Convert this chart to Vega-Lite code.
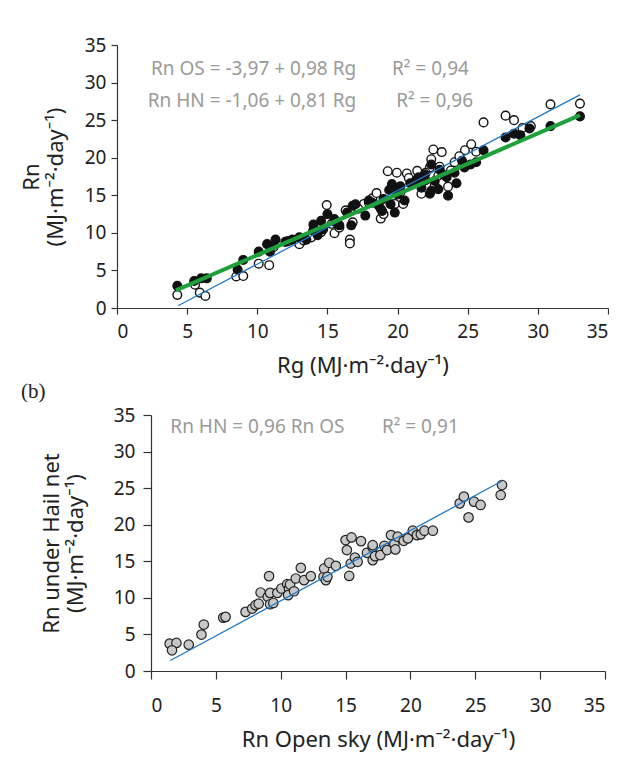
{
  "$schema": "https://vega.github.io/schema/vega-lite/v6.json",
  "background": "white",
  "padding": {"left": 20, "top": 36, "right": 0, "bottom": 5},
  "spacing": 5,
  "config": {
    "font": "Noto Sans",
    "view": {"stroke": null},
    "axis": {
      "grid": false,
      "domainColor": "#333333",
      "tickColor": "#333333",
      "labelColor": "#222222",
      "titleColor": "#222222",
      "labelFontSize": 19,
      "titleFontSize": 22,
      "titleFontWeight": "normal",
      "tickSize": 6,
      "domainWidth": 1.2,
      "tickWidth": 1.2,
      "titleLineHeight": 24
    }
  },
  "datasets": {
    "top_pts": [
      {"series": "OS", "x": 4.3, "y": 1.75},
      {"series": "OS", "x": 5.56, "y": 3.1},
      {"series": "OS", "x": 5.9, "y": 2.05},
      {"series": "OS", "x": 6.3, "y": 1.6},
      {"series": "OS", "x": 8.5, "y": 4.2},
      {"series": "OS", "x": 9.0, "y": 4.25},
      {"series": "OS", "x": 10.1, "y": 5.9},
      {"series": "OS", "x": 10.85, "y": 5.7},
      {"series": "OS", "x": 11.15, "y": 8.1},
      {"series": "OS", "x": 13.0, "y": 8.5},
      {"series": "OS", "x": 13.85, "y": 9.4},
      {"series": "OS", "x": 14.0, "y": 10.3},
      {"series": "OS", "x": 14.55, "y": 10.1},
      {"series": "OS", "x": 14.95, "y": 13.7},
      {"series": "OS", "x": 15.5, "y": 9.95},
      {"series": "OS", "x": 15.85, "y": 10.7},
      {"series": "OS", "x": 16.6, "y": 9.1},
      {"series": "OS", "x": 16.6, "y": 8.6},
      {"series": "OS", "x": 16.8, "y": 11.4},
      {"series": "OS", "x": 16.3, "y": 13.0},
      {"series": "OS", "x": 17.6, "y": 13.85},
      {"series": "OS", "x": 17.95, "y": 14.05},
      {"series": "OS", "x": 18.8, "y": 11.9},
      {"series": "OS", "x": 19.0, "y": 12.5},
      {"series": "OS", "x": 19.3, "y": 18.2},
      {"series": "OS", "x": 19.6, "y": 14.3},
      {"series": "OS", "x": 19.8, "y": 16.0},
      {"series": "OS", "x": 19.8, "y": 13.85},
      {"series": "OS", "x": 19.95, "y": 18.0},
      {"series": "OS", "x": 20.66, "y": 17.9},
      {"series": "OS", "x": 20.4, "y": 13.85},
      {"series": "OS", "x": 21.4, "y": 18.25},
      {"series": "OS", "x": 21.7, "y": 15.2},
      {"series": "OS", "x": 22.4, "y": 19.8},
      {"series": "OS", "x": 22.55, "y": 21.1},
      {"series": "OS", "x": 23.15, "y": 20.75},
      {"series": "OS", "x": 22.3, "y": 18.7},
      {"series": "OS", "x": 22.65, "y": 16.3},
      {"series": "OS", "x": 23.6, "y": 16.15},
      {"series": "OS", "x": 24.06, "y": 19.4},
      {"series": "OS", "x": 24.8, "y": 21.0},
      {"series": "OS", "x": 25.25, "y": 21.8},
      {"series": "OS", "x": 21.8, "y": 17.0},
      {"series": "OS", "x": 26.13, "y": 24.7},
      {"series": "OS", "x": 27.7, "y": 25.6},
      {"series": "OS", "x": 28.3, "y": 25.0},
      {"series": "OS", "x": 28.9, "y": 23.96},
      {"series": "OS", "x": 29.5, "y": 24.2},
      {"series": "OS", "x": 30.9, "y": 27.1},
      {"series": "OS", "x": 33.0, "y": 27.2},
      {"series": "OS", "x": 12.2, "y": 8.9},
      {"series": "OS", "x": 13.3, "y": 9.0},
      {"series": "OS", "x": 17.2, "y": 13.2},
      {"series": "OS", "x": 18.2, "y": 14.6},
      {"series": "OS", "x": 20.2, "y": 15.4},
      {"series": "OS", "x": 21.0, "y": 16.6},
      {"series": "OS", "x": 22.0, "y": 18.0},
      {"series": "OS", "x": 23.0, "y": 18.8},
      {"series": "OS", "x": 23.8, "y": 18.3},
      {"series": "OS", "x": 24.4, "y": 20.2},
      {"series": "OS", "x": 25.6, "y": 20.8},
      {"series": "OS", "x": 18.5, "y": 15.3},
      {"series": "OS", "x": 15.3, "y": 11.2},
      {"series": "OS", "x": 20.8, "y": 17.3},
      {"series": "OS", "x": 22.9, "y": 17.6},
      {"series": "HN", "x": 4.3, "y": 2.95},
      {"series": "HN", "x": 5.5, "y": 3.6},
      {"series": "HN", "x": 6.0, "y": 3.95},
      {"series": "HN", "x": 6.4, "y": 3.95},
      {"series": "HN", "x": 8.6, "y": 5.1},
      {"series": "HN", "x": 9.0, "y": 6.4},
      {"series": "HN", "x": 10.1, "y": 7.5},
      {"series": "HN", "x": 10.7, "y": 8.5},
      {"series": "HN", "x": 10.9, "y": 7.5},
      {"series": "HN", "x": 11.3, "y": 9.1},
      {"series": "HN", "x": 11.0, "y": 8.2},
      {"series": "HN", "x": 12.0, "y": 8.8},
      {"series": "HN", "x": 12.5, "y": 9.1},
      {"series": "HN", "x": 13.0, "y": 9.4},
      {"series": "HN", "x": 13.5, "y": 9.1},
      {"series": "HN", "x": 14.0, "y": 10.3},
      {"series": "HN", "x": 14.3, "y": 9.7},
      {"series": "HN", "x": 14.0, "y": 11.1},
      {"series": "HN", "x": 14.55, "y": 11.6},
      {"series": "HN", "x": 15.0, "y": 12.5},
      {"series": "HN", "x": 14.7, "y": 10.5},
      {"series": "HN", "x": 15.6, "y": 11.4},
      {"series": "HN", "x": 15.85, "y": 11.0},
      {"series": "HN", "x": 15.5, "y": 11.85},
      {"series": "HN", "x": 16.7, "y": 11.0},
      {"series": "HN", "x": 16.4, "y": 12.7},
      {"series": "HN", "x": 16.8, "y": 13.6},
      {"series": "HN", "x": 17.0, "y": 13.8},
      {"series": "HN", "x": 17.7, "y": 12.3},
      {"series": "HN", "x": 17.95, "y": 14.3},
      {"series": "HN", "x": 18.2, "y": 14.0},
      {"series": "HN", "x": 18.66, "y": 13.6},
      {"series": "HN", "x": 18.8, "y": 13.2},
      {"series": "HN", "x": 18.9, "y": 12.9},
      {"series": "HN", "x": 19.0, "y": 14.5},
      {"series": "HN", "x": 19.4, "y": 15.7},
      {"series": "HN", "x": 19.6, "y": 16.5},
      {"series": "HN", "x": 19.7, "y": 15.8},
      {"series": "HN", "x": 19.8, "y": 12.7},
      {"series": "HN", "x": 19.5, "y": 13.8},
      {"series": "HN", "x": 20.0, "y": 15.1},
      {"series": "HN", "x": 20.2, "y": 16.2},
      {"series": "HN", "x": 20.5, "y": 14.3},
      {"series": "HN", "x": 20.9, "y": 16.6},
      {"series": "HN", "x": 21.3, "y": 17.0},
      {"series": "HN", "x": 21.5, "y": 17.4},
      {"series": "HN", "x": 21.7, "y": 16.0},
      {"series": "HN", "x": 21.95, "y": 17.8},
      {"series": "HN", "x": 22.0, "y": 17.0},
      {"series": "HN", "x": 22.4, "y": 19.1},
      {"series": "HN", "x": 22.3, "y": 15.2},
      {"series": "HN", "x": 22.4, "y": 15.6},
      {"series": "HN", "x": 22.65, "y": 16.9},
      {"series": "HN", "x": 22.9, "y": 15.8},
      {"series": "HN", "x": 23.0, "y": 18.4},
      {"series": "HN", "x": 23.2, "y": 17.8},
      {"series": "HN", "x": 23.5, "y": 17.4},
      {"series": "HN", "x": 23.6, "y": 14.95},
      {"series": "HN", "x": 24.06, "y": 18.0},
      {"series": "HN", "x": 24.2, "y": 16.6},
      {"series": "HN", "x": 24.6, "y": 19.6},
      {"series": "HN", "x": 24.77, "y": 18.7},
      {"series": "HN", "x": 25.2, "y": 19.1},
      {"series": "HN", "x": 25.6, "y": 19.4},
      {"series": "HN", "x": 26.13, "y": 21.0},
      {"series": "HN", "x": 27.7, "y": 22.7},
      {"series": "HN", "x": 28.3, "y": 23.2},
      {"series": "HN", "x": 28.75, "y": 23.0},
      {"series": "HN", "x": 29.4, "y": 23.9},
      {"series": "HN", "x": 30.9, "y": 24.2},
      {"series": "HN", "x": 33.0, "y": 25.5}
    ],
    "top_lines": [
      {"series": "OS", "x": 4.35, "y": 0.3},
      {"series": "OS", "x": 33.0, "y": 28.37},
      {"series": "HN", "x": 4.2, "y": 2.34},
      {"series": "HN", "x": 33.0, "y": 25.67}
    ],
    "top_eq": [
      {"label": "Rn OS = -3,97 + 0,98 Rg", "x": 17.05, "y": 31.8},
      {"label": "Rn HN = -1,06 + 0,81 Rg", "x": 17.05, "y": 27.5}
    ],
    "top_r2": [
      {"label": "R² = 0,94", "x": 19.6, "y": 31.8},
      {"label": "R² = 0,96", "x": 19.9, "y": 27.5}
    ],
    "bot_pts": [
      {"x": 1.44, "y": 3.74}, {"x": 1.96, "y": 3.84}, {"x": 1.62, "y": 2.83},
      {"x": 2.91, "y": 3.6}, {"x": 3.89, "y": 4.98}, {"x": 4.07, "y": 6.35},
      {"x": 5.57, "y": 7.3}, {"x": 5.75, "y": 7.4}, {"x": 7.29, "y": 8.08},
      {"x": 7.8, "y": 8.54}, {"x": 8.06, "y": 9.0}, {"x": 8.3, "y": 9.2},
      {"x": 8.45, "y": 10.73}, {"x": 9.0, "y": 10.14}, {"x": 9.1, "y": 12.97},
      {"x": 9.18, "y": 10.68}, {"x": 9.18, "y": 9.13}, {"x": 9.43, "y": 9.3},
      {"x": 9.74, "y": 10.68}, {"x": 10.05, "y": 11.28}, {"x": 10.5, "y": 11.87},
      {"x": 10.64, "y": 11.28}, {"x": 10.57, "y": 10.37}, {"x": 10.72, "y": 11.83},
      {"x": 11.03, "y": 10.9}, {"x": 11.16, "y": 12.65}, {"x": 11.55, "y": 14.1},
      {"x": 11.8, "y": 12.42}, {"x": 12.32, "y": 12.97}, {"x": 13.3, "y": 12.88},
      {"x": 13.35, "y": 14.02}, {"x": 13.48, "y": 12.42}, {"x": 13.6, "y": 12.88},
      {"x": 13.74, "y": 14.8}, {"x": 14.25, "y": 14.38}, {"x": 15.0, "y": 17.9},
      {"x": 15.1, "y": 16.53}, {"x": 15.28, "y": 13.0}, {"x": 15.4, "y": 14.7},
      {"x": 15.46, "y": 18.26}, {"x": 15.72, "y": 15.5}, {"x": 15.93, "y": 14.93},
      {"x": 16.19, "y": 17.76}, {"x": 16.65, "y": 16.16}, {"x": 17.09, "y": 16.9},
      {"x": 17.09, "y": 15.16}, {"x": 17.27, "y": 15.7}, {"x": 17.68, "y": 15.84},
      {"x": 17.99, "y": 17.12}, {"x": 18.2, "y": 16.53}, {"x": 18.5, "y": 18.58},
      {"x": 18.76, "y": 17.35}, {"x": 18.84, "y": 16.62}, {"x": 19.02, "y": 18.36},
      {"x": 19.48, "y": 17.8}, {"x": 19.8, "y": 18.13}, {"x": 20.18, "y": 19.18},
      {"x": 20.5, "y": 18.58}, {"x": 20.8, "y": 18.68}, {"x": 21.08, "y": 19.18},
      {"x": 21.73, "y": 19.18}, {"x": 23.8, "y": 22.92}, {"x": 24.12, "y": 23.84},
      {"x": 24.48, "y": 21.0}, {"x": 24.9, "y": 23.15}, {"x": 25.41, "y": 22.7},
      {"x": 27.06, "y": 25.43}, {"x": 26.96, "y": 24.06}, {"x": 17.09, "y": 17.2}
    ],
    "bot_line": [
      {"x": 1.49, "y": 1.43},
      {"x": 27.06, "y": 25.98}
    ],
    "bot_text": [
      {"label": "Rn HN = 0,96 Rn OS", "x": 1.49, "y": 33.4},
      {"label": "R² = 0,91", "x": 17.8, "y": 33.4}
    ]
  },
  "vconcat": [
    {
      "width": 491,
      "height": 263,
      "encoding": {
        "x": {
          "field": "x", "type": "quantitative",
          "scale": {"domain": [0, 35], "nice": false},
          "axis": {"title": "Rg (MJ·m⁻²·day⁻¹)", "values": [0, 5, 10, 15, 20, 25, 30, 35], "labelPadding": 8, "titlePadding": 14}
        },
        "y": {
          "field": "y", "type": "quantitative",
          "scale": {"domain": [0, 35], "nice": false},
          "axis": {"title": ["Rn", "(MJ·m⁻²·day⁻¹)"], "values": [0, 5, 10, 15, 20, 25, 30, 35], "labelPadding": 5, "titlePadding": 17}
        }
      },
      "layer": [
        {
          "data": {"name": "top_pts"},
          "mark": {"type": "circle", "size": 75, "stroke": "#111111", "strokeWidth": 1.4, "opacity": 1},
          "encoding": {
            "fill": {"field": "series", "type": "nominal", "scale": {"domain": ["OS", "HN"], "range": ["#ffffff", "#111111"]}, "legend": null}
          }
        },
        {
          "data": {"name": "top_lines"},
          "transform": [{"filter": "datum.series == 'OS'"}],
          "mark": {"type": "line", "color": "#1f78c8", "strokeWidth": 1.3},
          "encoding": {}
        },
        {
          "data": {"name": "top_lines"},
          "transform": [{"filter": "datum.series == 'HN'"}],
          "mark": {"type": "line", "color": "#1ea03c", "strokeWidth": 4},
          "encoding": {}
        },
        {
          "data": {"name": "top_eq"},
          "mark": {"type": "text", "align": "right", "baseline": "middle", "fontSize": 19, "color": "#9a9a9a"},
          "encoding": {"text": {"field": "label"}}
        },
        {
          "data": {"name": "top_r2"},
          "mark": {"type": "text", "align": "left", "baseline": "middle", "fontSize": 19, "color": "#9a9a9a"},
          "encoding": {"text": {"field": "label"}}
        }
      ]
    },
    {
      "width": 488,
      "height": 256,
      "title": {"text": "(b)", "anchor": "start", "frame": "group", "dx": -96, "font": "Liberation Serif", "fontSize": 21, "fontWeight": "normal", "color": "#222222", "offset": 4},
      "encoding": {
        "x": {
          "field": "x", "type": "quantitative",
          "scale": {"domain": [0, 35], "nice": false, "range": [34, 488]},
          "axis": {"title": "Rn Open sky (MJ·m⁻²·day⁻¹)", "values": [0, 5, 10, 15, 20, 25, 30, 35], "tickSize": 8, "labelPadding": 17, "titlePadding": 14}
        },
        "y": {
          "field": "y", "type": "quantitative",
          "scale": {"domain": [0, 35], "nice": false},
          "axis": {"title": ["Rn under Hail net", "(MJ·m⁻²·day⁻¹)"], "values": [0, 5, 10, 15, 20, 25, 30, 35], "tickSize": 8, "labelPadding": 8, "titlePadding": 26, "offset": -34}
        }
      },
      "layer": [
        {
          "data": {"name": "bot_pts"},
          "mark": {"type": "circle", "size": 90, "fill": "#c8c8c8", "stroke": "#222222", "strokeWidth": 1.2, "opacity": 1},
          "encoding": {}
        },
        {
          "data": {"name": "bot_line"},
          "mark": {"type": "line", "color": "#1f78c8", "strokeWidth": 1.3},
          "encoding": {}
        },
        {
          "data": {"name": "bot_text"},
          "mark": {"type": "text", "align": "left", "baseline": "middle", "fontSize": 19, "color": "#9a9a9a"},
          "encoding": {"text": {"field": "label"}}
        }
      ]
    }
  ]
}
